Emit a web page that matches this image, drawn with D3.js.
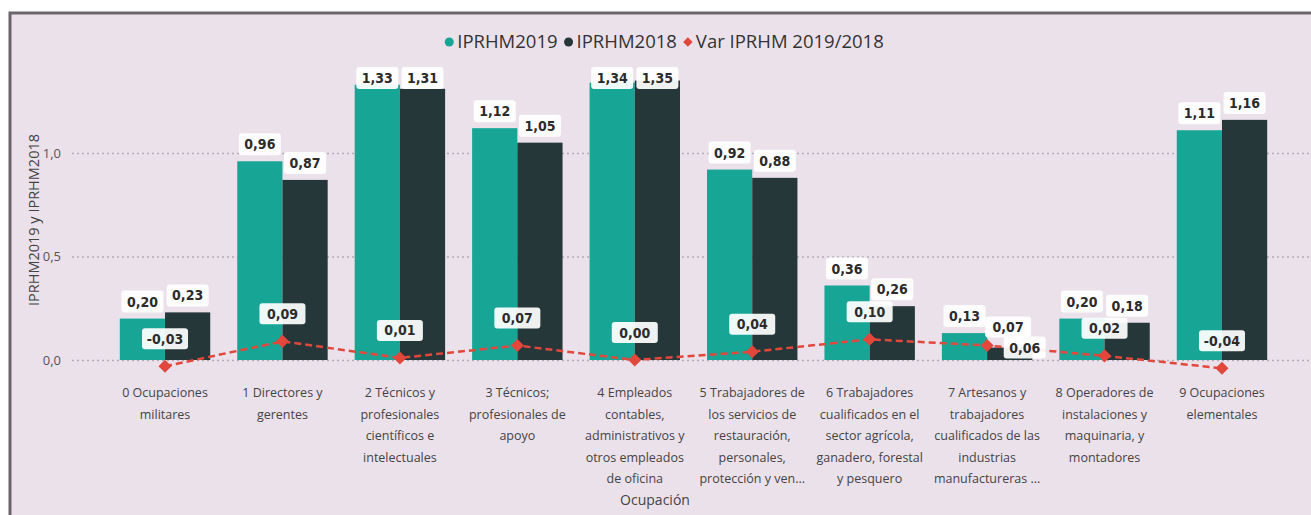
<!DOCTYPE html>
<html>
<head>
<meta charset="utf-8">
<script src="https://cdn.jsdelivr.net/npm/d3@7"></script>
<style>
  html, body { margin: 0; padding: 0; background: #ffffff; }
  svg { display: block; }
</style>
</head>
<body>
<svg id="chart" width="1311" height="515"></svg>
<script>
// Occupation groups (display text, one line per row)
const categories = [
  "0 Ocupaciones\nmilitares",
  "1 Directores y\ngerentes",
  "2 Técnicos y\nprofesionales\ncientíficos e\nintelectuales",
  "3 Técnicos;\nprofesionales de\napoyo",
  "4 Empleados\ncontables,\nadministrativos y\notros empleados\nde oficina",
  "5 Trabajadores de\nlos servicios de\nrestauración,\npersonales,\nprotección y ven...",
  "6 Trabajadores\ncualificados en el\nsector agrícola,\nganadero, forestal\ny pesquero",
  "7 Artesanos y\ntrabajadores\ncualificados de las\nindustrias\nmanufactureras ...",
  "8 Operadores de\ninstalaciones y\nmaquinaria, y\nmontadores",
  "9 Ocupaciones\nelementales"
];
const iprhm2019 = [0.20, 0.96, 1.33, 1.12, 1.34, 0.92, 0.36, 0.13, 0.20, 1.11];
const iprhm2018 = [0.23, 0.87, 1.31, 1.05, 1.35, 0.88, 0.26, 0.06, 0.18, 1.16];
const varIprhm  = [-0.03, 0.09, 0.01, 0.07, 0.00, 0.04, 0.10, 0.07, 0.02, -0.04];
const yTicks = [0, 0.5, 1.0];
const seriesNames = ["IPRHM2019", "IPRHM2018"];
const varName = "Var IPRHM 2019/2018";

const colors = { IPRHM2019: "#17a696", IPRHM2018: "#253739", var: "#e2473b" };
const fmt = v => v.toFixed(2).replace(".", ",");

const svg = d3.select("#chart");
const W = 1311, H = 515;

// Card frame
svg.append("rect").attr("x", 0).attr("y", 0).attr("width", W).attr("height", H).attr("fill", "#ffffff");
svg.append("rect").attr("x", 10).attr("y", 13).attr("width", W + 20).attr("height", H + 20)
  .attr("fill", "#ebe1eb").attr("stroke", "#6b656a").attr("stroke-width", 3);

// Scales
const x = d3.scaleBand().domain(d3.range(categories.length))
  .range([106.3, 1280.7]).paddingInner(0.23).paddingOuter(0.115);
const xs = d3.scaleBand().domain(seriesNames).range([0, x.bandwidth()]);
const y = d3.scaleLinear().domain([0, 1]).range([360, 153]);

// Gridlines + y tick labels
const yAxis = d3.axisLeft(y).tickValues(yTicks).tickSize(-(W - 72)).tickFormat(d => d.toFixed(1).replace(".", ","));
const gy = svg.append("g").attr("transform", "translate(72,0)").call(yAxis);
gy.select(".domain").remove();
gy.selectAll(".tick line").attr("stroke", "#b4adb6").attr("stroke-width", 1.3).attr("stroke-dasharray", "2,3");
gy.selectAll(".tick text").attr("x", -11).attr("fill", "#555").attr("font-family", "Open Sans, sans-serif").attr("font-size", 13);

// Y axis title
svg.append("text").attr("transform", "translate(39,220) rotate(-90)")
  .attr("text-anchor", "middle").attr("fill", "#444")
  .attr("font-family", "Open Sans, sans-serif").attr("font-size", 14.5)
  .text("IPRHM2019 y IPRHM2018");

// Bars
const rows = categories.map((c, i) => ({ i, IPRHM2019: iprhm2019[i], IPRHM2018: iprhm2018[i], v: varIprhm[i] }));
const groups = svg.append("g").selectAll("g").data(rows).join("g")
  .attr("transform", d => `translate(${x(d.i)},0)`);
groups.selectAll("rect").data(d => seriesNames.map(s => ({ s, val: d[s] }))).join("rect")
  .attr("x", d => xs(d.s)).attr("width", xs.bandwidth())
  .attr("y", d => y(d.val)).attr("height", d => y(0) - y(d.val))
  .attr("fill", d => colors[d.s]);

// Variation line with square-diamond markers
const cx = i => x(i) + x.bandwidth() / 2;
const line = d3.line().x((d, i) => cx(i)).y(d => y(d));
svg.append("path").datum(varIprhm).attr("d", line)
  .attr("fill", "none").attr("stroke", colors.var).attr("stroke-width", 2.5).attr("stroke-dasharray", "7,4");
svg.append("g").selectAll("path").data(varIprhm).join("path")
  .attr("d", d3.symbol(d3.symbolSquare, 85))
  .attr("transform", (d, i) => `translate(${cx(i)},${y(d)}) rotate(45)`)
  .attr("fill", colors.var);

// Data labels
const labelFont = "'DejaVu Sans Condensed', 'DejaVu Sans', sans-serif";
const labels = [];
rows.forEach(d => {
  seriesNames.forEach(s => {
    const bx = x(d.i) + xs(s) + xs.bandwidth() / 2;
    const top = y(d[s]);
    const boxTop = Math.max(67, top - 6 - 22);
    labels.push({ key: `${d.i}-${s}`, text: fmt(d[s]), cx: bx, cy: boxTop + 11, w: 42, h: 22 });
  });
  const my = y(d.v);
  labels.push({ key: `${d.i}-var`, text: fmt(d.v), cx: cx(d.i), cy: my - 17 - 10.5, w: 46, h: 21 });
});
// Crowded group 7: push labels aside so they stay readable
const nudge = {
  "7-IPRHM2018": l => { l.cx += 15; l.cy = y(iprhm2018[7]); },
  "7-var": l => { l.cx += 21; l.cy += 9; }
};
labels.forEach(l => { if (nudge[l.key]) nudge[l.key](l); });

const lg = svg.append("g").selectAll("g").data(labels).join("g")
  .attr("transform", l => `translate(${l.cx},${l.cy})`);
lg.append("rect").attr("x", l => -l.w / 2).attr("y", l => -l.h / 2)
  .attr("width", l => l.w).attr("height", l => l.h).attr("rx", 3)
  .attr("fill", "#ffffff").attr("fill-opacity", 0.93);
lg.append("text").attr("text-anchor", "middle").attr("dy", "0.36em")
  .attr("font-family", labelFont).attr("font-weight", "bold").attr("font-size", 14)
  .attr("fill", "#2b2b2b").text(l => l.text);

// X axis category labels
const xl = svg.append("g").selectAll("text").data(rows).join("text")
  .attr("text-anchor", "middle").attr("fill", "#444")
  .attr("font-family", "Open Sans, sans-serif").attr("font-size", 12.5);
xl.each(function (d) {
  const t = d3.select(this);
  categories[d.i].split("\n").forEach((ln, k) => {
    t.append("tspan").attr("x", cx(d.i)).attr("y", 397 + k * 21.5).text(ln);
  });
});

// X axis title
svg.append("text").attr("x", 655).attr("y", 505).attr("text-anchor", "middle")
  .attr("fill", "#444").attr("font-family", "Open Sans, sans-serif").attr("font-size", 14)
  .text("Ocupación");

// Legend
const legendItems = [
  { name: "IPRHM2019", color: colors.IPRHM2019, shape: "circle" },
  { name: "IPRHM2018", color: colors.IPRHM2018, shape: "circle" },
  { name: varName, color: colors.var, shape: "diamond" }
];
const leg = svg.append("g");
let lx = 0;
legendItems.forEach(it => {
  const g = leg.append("g").attr("transform", `translate(${lx},0)`);
  if (it.shape === "circle") {
    g.append("circle").attr("cx", 5).attr("cy", 0).attr("r", 4.5).attr("fill", it.color);
  } else {
    g.append("path").attr("d", d3.symbol(d3.symbolSquare, 45)).attr("transform", "translate(5,0) rotate(45)").attr("fill", it.color);
  }
  const t = g.append("text").attr("x", 13).attr("dy", "0.35em")
    .attr("font-family", "Open Sans, sans-serif").attr("font-size", 18.5).attr("fill", "#333").text(it.name);
  lx += 13 + t.node().getComputedTextLength() + 6;
});
const legW = lx - 6;
leg.attr("transform", `translate(${664 - legW / 2},42)`);
</script>
</body>
</html>
